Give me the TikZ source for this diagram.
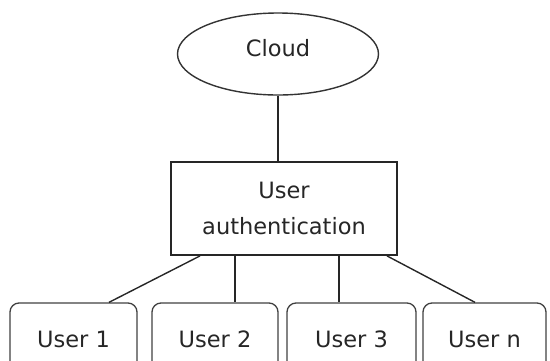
\documentclass[tikz,border=0pt]{standalone}
\usepackage{fontspec}
\setmainfont{DejaVu Sans}
\usetikzlibrary{shapes.geometric}
\begin{document}
\begin{tikzpicture}[x=1pt,y=-1pt,
  every node/.style={font=\fontsize{22.5}{30}\selectfont, text=black!85},
  cloudnode/.style={ellipse, draw=black!80, line width=1.4pt, minimum width=201pt, minimum height=82pt, inner sep=0pt},
  authbox/.style={rectangle, draw=black!85, line width=1.8pt, minimum width=226pt, minimum height=93pt, align=center, inner sep=0pt},
  userbox/.style={rectangle, rounded corners=9pt, draw=black!75, line width=1.3pt, minimum height=72pt, inner sep=0pt},
  link/.style={draw=black!85, line width=1.4pt}]
\useasboundingbox (0,0) rectangle (550,360);
\clip (0,0) rectangle (550,360);

\node[cloudnode] (cloud) at (278,54) {};
\node at (278,48) {Cloud};

\node[authbox] (auth) at (284,208.5) {User\\[6pt]authentication};

\node[userbox, minimum width=127pt] (u1) at (73.5,339) {User 1};
\node[userbox, minimum width=126pt] (u2) at (215,339) {User 2};
\node[userbox, minimum width=129pt] (u3) at (351.5,339) {User 3};
\node[userbox, minimum width=123pt] (un) at (484.5,339) {User n};

\draw[link] (cloud.south) -- (cloud.south |- auth.north);
\draw[link] ([xshift=-84pt]auth.south) -- ([xshift=35.5pt]u1.north);
\draw[link] ([xshift=-49pt]auth.south) -- ([xshift=20pt]u2.north);
\draw[link] ([xshift=55pt]auth.south) -- ([xshift=-12.5pt]u3.north);
\draw[link] ([xshift=103pt]auth.south) -- ([xshift=-9.5pt]un.north);
\end{tikzpicture}
\end{document}
